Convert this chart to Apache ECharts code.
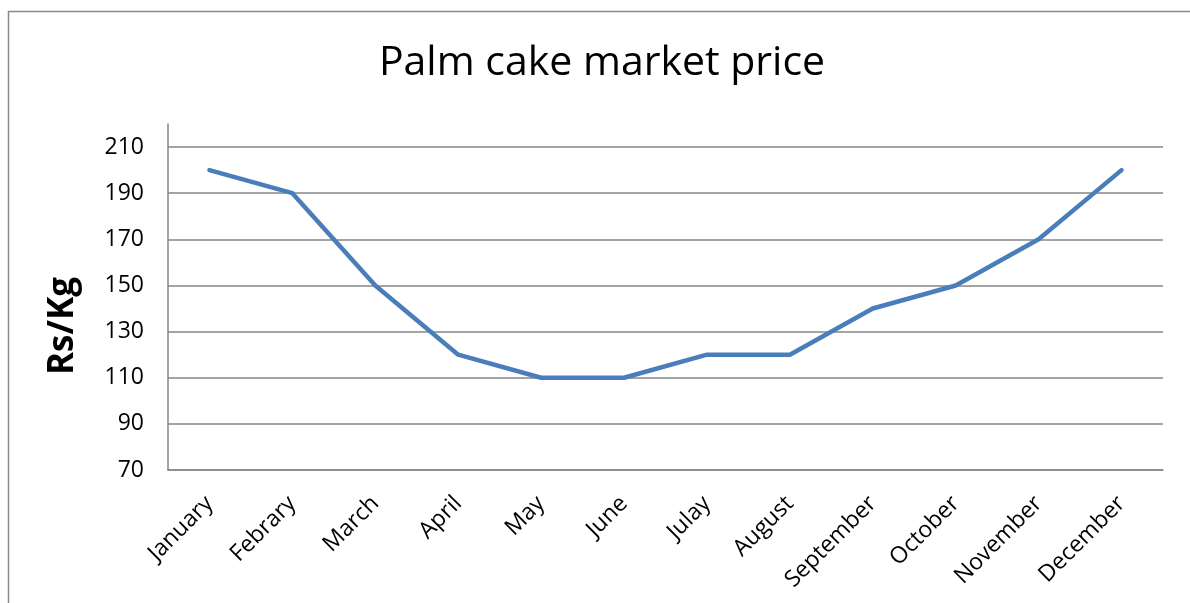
<!DOCTYPE html>
<html>
<head>
<meta charset="utf-8">
<script src="https://cdn.jsdelivr.net/npm/echarts@6/dist/echarts.min.js"></script>
<style>
  html, body { margin: 0; padding: 0; background: #fff; }
  #chart { width: 1190px; height: 603px; }
</style>
</head>
<body>
<div id="chart"></div>
<script>
// Monthly palm cake price (Rs/Kg)
const months = ['January', 'Febrary', 'March', 'April', 'May', 'June', 'Julay', 'August', 'September', 'October', 'November', 'December'];
const prices = [200, 190, 150, 120, 110, 110, 120, 120, 140, 150, 170, 200];
const yMin = 70;
const yMax = 220;
const yStep = 20;
const yTitle = 'Rs/Kg';

const chart = echarts.init(document.getElementById('chart'), null, { renderer: 'canvas' });
const font = '"Open Sans", "Noto Sans", sans-serif';

chart.setOption({
  backgroundColor: '#ffffff',
  animation: false,
  title: {
    text: 'Palm cake market price',
    left: 597,
    textAlign: 'center',
    top: 38,
    textStyle: { fontFamily: font, fontSize: 41, fontWeight: 'normal', color: '#000' }
  },
  graphic: [
    {
      // outer chart frame
      type: 'rect',
      shape: { x: 8.5, y: 11.5, width: 1400, height: 800 },
      style: { fill: null, stroke: '#8a8a8a', lineWidth: 1.5 },
      silent: true
    },
    {
      // vertical axis title
      type: 'text',
      x: 63,
      y: 326,
      rotation: Math.PI / 2,
      style: {
        text: yTitle,
        fontFamily: font,
        fontSize: 35,
        fontWeight: 'bold',
        fill: '#000',
        align: 'center',
        verticalAlign: 'middle'
      },
      silent: true
    }
  ],
  grid: { left: 168, right: 27, top: 124, bottom: 133 },
  xAxis: {
    type: 'category',
    data: months,
    boundaryGap: true,
    axisLine: { lineStyle: { color: '#868686', width: 1.5 } },
    axisTick: { show: false },
    axisLabel: { rotate: 45, margin: 30, color: '#000', fontFamily: font, fontSize: 23 }
  },
  yAxis: {
    type: 'value',
    min: yMin,
    max: yMax,
    interval: yStep,
    axisLine: { show: true, lineStyle: { color: '#868686', width: 1.5 } },
    axisTick: { show: false },
    axisLabel: {
      margin: 24, color: '#000', fontFamily: font, fontSize: 23, showMaxLabel: false,
      formatter: v => (v === yMax ? '' : String(v))
    },
    splitLine: { show: true, showMaxLine: false, lineStyle: { color: '#868686', width: 1.5 } }
  },
  series: [{
    type: 'line',
    data: prices,
    showSymbol: false,
    symbol: 'none',
    lineStyle: { color: '#4a7ebb', width: 4.5, join: 'round', cap: 'round' }
  }]
});
</script>
</body>
</html>
